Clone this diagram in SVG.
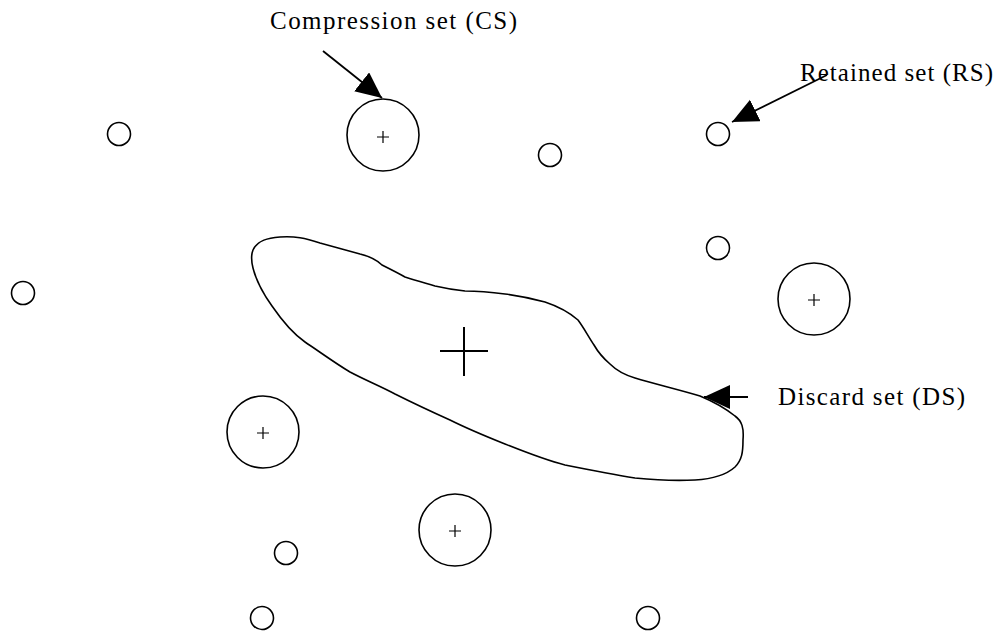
<svg xmlns="http://www.w3.org/2000/svg" width="1000" height="635" viewBox="0 0 1000 635">
<style>
.pt{fill:none;stroke:#000;stroke-width:1.6}
.cl{fill:none;stroke:#000;stroke-width:1.6}
.pl{stroke:#000;stroke-width:1.2}
.ln{stroke:#000;stroke-width:1.8;fill:none}
text{font-family:"Liberation Serif","Times New Roman",serif;font-size:25px;fill:#000}
</style>
<defs>
<marker id="ah" markerUnits="userSpaceOnUse" markerWidth="30" markerHeight="30" refX="26" refY="12" orient="auto">
<path d="M0,0 L26,12 L0,24 Z" fill="#000"/>
</marker>
</defs>
<rect width="1000" height="635" fill="#fff"/>
<g id="rs1"><circle class="pt" cx="119" cy="134" r="11.5"/></g>
<g id="rs2"><circle class="pt" cx="23" cy="293" r="11.5"/></g>
<g id="rs3"><circle class="pt" cx="550" cy="155" r="11.5"/></g>
<g id="rs4"><circle class="pt" cx="718" cy="134" r="11.5"/></g>
<g id="rs5"><circle class="pt" cx="718" cy="248" r="11.5"/></g>
<g id="rs6"><circle class="pt" cx="286" cy="553" r="11.5"/></g>
<g id="rs7"><circle class="pt" cx="262" cy="618" r="11.5"/></g>
<g id="rs8"><circle class="pt" cx="648" cy="618" r="11.5"/></g>
<g id="cs1"><circle class="cl" cx="383" cy="135" r="36"/><path class="pl" d="M377,137h12M383,131v12"/></g>
<g id="cs2"><circle class="cl" cx="814" cy="299" r="36"/><path class="pl" d="M808,300h12M814,294v12"/></g>
<g id="cs3"><circle class="cl" cx="263" cy="432" r="36"/><path class="pl" d="M257,433h12M263,427v12"/></g>
<g id="cs4"><circle class="cl" cx="455" cy="530" r="36"/><path class="pl" d="M449,531h12M455,525v12"/></g>
<g id="ds">
<path class="cl" d="M253,250 C258,240 268,238 280,237 C295,236 305,238 320,243 C335,247 345,250 360,254 C372,257 378,261 382,265 C392,270 398,273 405,277 C418,281 425,283 435,286 C448,289 455,290 465,291 C480,291 490,292 505,294 C520,296 530,298 545,302 C560,307 570,313 578,320 C584,328 588,336 594,345 C598,352 603,358 610,364 C618,372 625,375 635,378 C655,384 680,390 700,396 C712,401 725,408 735,416 C742,421 744,428 743,440 C743,452 742,460 735,467 C725,476 712,479 695,480 C675,481 655,480 635,478 C610,474 590,470 565,465 C545,460 525,452 505,444 C490,438 470,430 450,420 C430,411 415,404 395,394 C380,386 365,380 350,372 C335,363 320,352 305,342 C292,333 283,322 272,306 C262,292 256,280 253,268 C251,260 251,255 253,250 Z"/>
<path d="M440,351h48M464,327v49" stroke="#000" stroke-width="2"/>
</g>
<g id="connectors">
<line class="ln" x1="323" y1="51" x2="382" y2="98" marker-end="url(#ah)"/>
<line class="ln" x1="827" y1="75" x2="732" y2="122" marker-end="url(#ah)"/>
<line class="ln" x1="748" y1="397" x2="704" y2="397" marker-end="url(#ah)"/>
</g>
<g id="labels">
<text x="270" y="29" textLength="247" lengthAdjust="spacing">Compression set (CS)</text>
<text x="800" y="81" textLength="193" lengthAdjust="spacing">Retained set (RS)</text>
<text x="778" y="405" textLength="187" lengthAdjust="spacing">Discard set (DS)</text>
</g>
</svg>
